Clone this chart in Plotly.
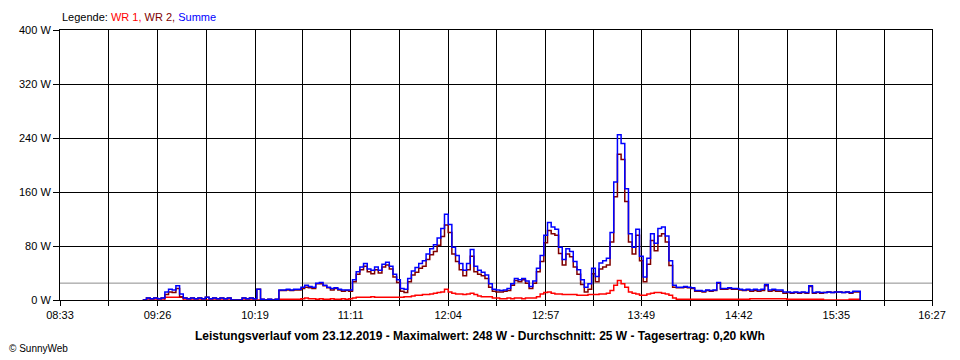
import plotly.graph_objects as go

# ---- data (W), sampled every 2 minutes starting 09:18 ----
sample_start = "09:18"
sample_step_min = 2

summe = [
    0, 3, 2, 3, 2, 3, 12, 16, 15, 21,
    9, 3, 2, 3, 2, 3, 2, 4, 2, 3,
    2, 3, 2, 3, 0, 0, 0, 3, 2, 3,
    2, 16, 1, 0, 1, 0, 1, 15, 15, 16,
    15, 16, 16, 19, 22, 20, 19, 25, 26, 22,
    19, 17, 18, 16, 15, 15, 15, 30, 42, 49,
    54, 46, 44, 49, 44, 53, 56, 50, 38, 30,
    17, 16, 32, 43, 48, 54, 58, 68, 76, 82,
    92, 106, 127, 112, 78, 66, 54, 44, 54, 75,
    50, 44, 41, 37, 24, 16, 15, 14, 15, 17,
    24, 32, 30, 32, 28, 20, 28, 47, 66, 96,
    115, 108, 105, 78, 60, 76, 72, 57, 45, 30,
    19, 24, 47, 35, 55, 58, 62, 100, 175, 245,
    232, 165, 98, 78, 105, 65, 34, 62, 98, 84,
    106, 108, 95, 58, 22, 19, 19, 20, 19, 18,
    14, 14, 13, 15, 14, 15, 26, 17, 17, 18,
    17, 17, 16, 15, 16, 15, 16, 15, 16, 23,
    15, 16, 15, 15, 12, 12, 11, 12, 11, 12,
    11, 21, 11, 12, 11, 11, 12, 11, 12, 12,
    11, 12, 11, 13, 13, 0,
]

wr1 = [
    0, 0, 0, 0, 0, 0, 4, 4, 4, 4,
    4, 0, 0, 0, 0, 0, 0, 0, 0, 0,
    0, 0, 0, 0, 0, 0, 0, 0, 0, 0,
    0, 0, 0, 0, 0, 0, 0, 1, 1, 1,
    1, 1, 1, 2, 3, 2, 2, 1, 2, 1,
    1, 2, 1, 1, 2, 1, 2, 3, 4, 4,
    4, 4, 5, 4, 4, 4, 4, 4, 4, 4,
    4, 5, 5, 6, 7, 7, 8, 8, 9, 10,
    11, 12, 16, 12, 10, 9, 9, 8, 9, 10,
    8, 6, 5, 5, 5, 3, 3, 2, 2, 3,
    2, 3, 3, 2, 3, 3, 3, 5, 9, 11,
    12, 10, 9, 9, 8, 8, 8, 8, 7, 7,
    7, 8, 8, 8, 9, 9, 10, 14, 22, 29,
    24, 19, 12, 10, 9, 7, 7, 9, 10, 11,
    11, 10, 9, 7, 3, 1, 1, 1, 1, 1,
    1, 1, 1, 1, 1, 1, 1, 1, 1, 1,
    1, 1, 1, 1, 1, 2, 2, 2, 2, 2,
    2, 2, 2, 2, 2, 1, 1, 1, 1, 1,
    1, 1, 1, 1, 1, 0, 0, 0, 0, 0,
    0, 0, 1, 1, 1, 0,
]

wr2 = [
    0, 3, 2, 3, 2, 3, 8, 12, 11, 17,
    5, 3, 2, 3, 2, 3, 2, 4, 2, 3,
    2, 3, 2, 3, 0, 0, 0, 3, 2, 3,
    2, 16, 1, 0, 1, 0, 1, 14, 14, 15,
    14, 15, 15, 17, 19, 18, 17, 24, 24, 21,
    18, 15, 17, 15, 13, 14, 13, 27, 38, 45,
    50, 42, 39, 45, 40, 49, 52, 46, 34, 26,
    13, 11, 27, 37, 41, 47, 50, 60, 67, 72,
    81, 94, 111, 100, 68, 57, 45, 36, 45, 65,
    42, 38, 36, 32, 19, 13, 12, 12, 13, 14,
    22, 29, 27, 30, 25, 17, 25, 42, 57, 85,
    103, 98, 96, 69, 52, 68, 64, 49, 38, 23,
    12, 16, 39, 27, 46, 49, 52, 86, 153, 216,
    208, 146, 86, 68, 96, 58, 27, 53, 88, 73,
    95, 98, 86, 51, 19, 18, 18, 19, 18, 17,
    13, 13, 12, 14, 13, 14, 25, 16, 16, 17,
    16, 16, 15, 14, 15, 13, 14, 13, 14, 21,
    13, 14, 13, 13, 10, 11, 10, 11, 10, 11,
    10, 20, 10, 11, 10, 11, 12, 11, 12, 12,
    11, 12, 10, 12, 12, 0,
]

average_w = 25
x_tick_labels = ["08:33", "09:26", "10:19", "11:11", "12:04",
                 "12:57", "13:49", "14:42", "15:35", "16:27"]
y_tick_values = [0, 80, 160, 240, 320, 400]
title_text = ("Leistungsverlauf vom 23.12.2019 - Maximalwert: 248 W - "
              "Durchschnitt: 25 W - Tagesertrag: 0,20 kWh")


def to_min(hhmm):
    h, m = hhmm.split(":")
    return int(h) * 60 + int(m)


t0 = to_min(sample_start)
times = [t0 + sample_step_min * i for i in range(len(summe))]

label_mins = [to_min(s) for s in x_tick_labels]
tickvals, ticktext = [], []
for i, v in enumerate(label_mins):
    tickvals.append(v)
    ticktext.append(x_tick_labels[i])
    if i < len(label_mins) - 1:
        tickvals.append((v + label_mins[i + 1]) / 2)
        ticktext.append("")

FONT = "Liberation Sans, Arial, sans-serif"

fig = go.Figure()
fig.add_trace(go.Scatter(x=times, y=wr1, mode="lines", line_shape="hv",
                         line=dict(color="#FF0000", width=1.5), name="WR 1"))
fig.add_trace(go.Scatter(x=times, y=wr2, mode="lines", line_shape="hv",
                         line=dict(color="#800000", width=1.5), name="WR 2"))
fig.add_trace(go.Scatter(x=times, y=summe, mode="lines", line_shape="hv",
                         line=dict(color="#0000FF", width=1.5), name="Summe"))

fig.add_shape(type="line", xref="x", yref="y",
              x0=label_mins[0], x1=label_mins[-1], y0=average_w, y1=average_w,
              line=dict(color="#8C8C8C", width=1), layer="below")

# page has an 8px body margin, so the figure is 952x352 placed at (8, 8)
fig.update_layout(
    width=952, height=352,
    margin=dict(l=52, r=28, t=22, b=60, autoexpand=False),
    paper_bgcolor="white", plot_bgcolor="white",
    showlegend=False,
    font=dict(family=FONT, size=11, color="black"),
    xaxis=dict(range=[label_mins[0], label_mins[-1]],
               tickmode="array", tickvals=tickvals, ticktext=ticktext,
               showgrid=True, gridcolor="black", gridwidth=1,
               showline=True, linecolor="black", linewidth=1, mirror=True,
               ticks="outside", ticklen=5, tickcolor="black", tickwidth=1,
               zeroline=False, tickfont=dict(size=11)),
    yaxis=dict(range=[0, 400],
               tickmode="array", tickvals=y_tick_values,
               ticktext=[f"{v} W" for v in y_tick_values],
               showgrid=True, gridcolor="black", gridwidth=1,
               showline=True, linecolor="black", linewidth=1, mirror=True,
               ticks="outside", ticklen=6, tickcolor="black", tickwidth=1,
               zeroline=False, tickfont=dict(size=11)),
    annotations=[
        dict(xref="paper", yref="paper", x=0, y=(300 - 17) / 270,
             xanchor="left", yanchor="middle", showarrow=False,
             text=("Legende: <span style='color:#FF0000'>WR 1, </span>"
                   "<span style='color:#800000'>WR 2, </span>"
                   "<span style='color:#0000FF'>Summe</span>"),
             font=dict(size=11, color="black")),
        dict(xref="paper", yref="paper", x=(480 - 60) / 872, y=(300 - 336) / 270,
             xanchor="center", yanchor="middle", showarrow=False,
             text="<b>" + title_text + "</b>",
             font=dict(size=12, color="black")),
        dict(xref="paper", yref="paper", x=(8 - 60) / 872, y=(300 - 348) / 270,
             xanchor="left", yanchor="middle", showarrow=False,
             xshift=0, borderpad=0,
             text="© SunnyWeb", font=dict(size=10, color="black")),
    ],
)

fig.write_html("out.html")
